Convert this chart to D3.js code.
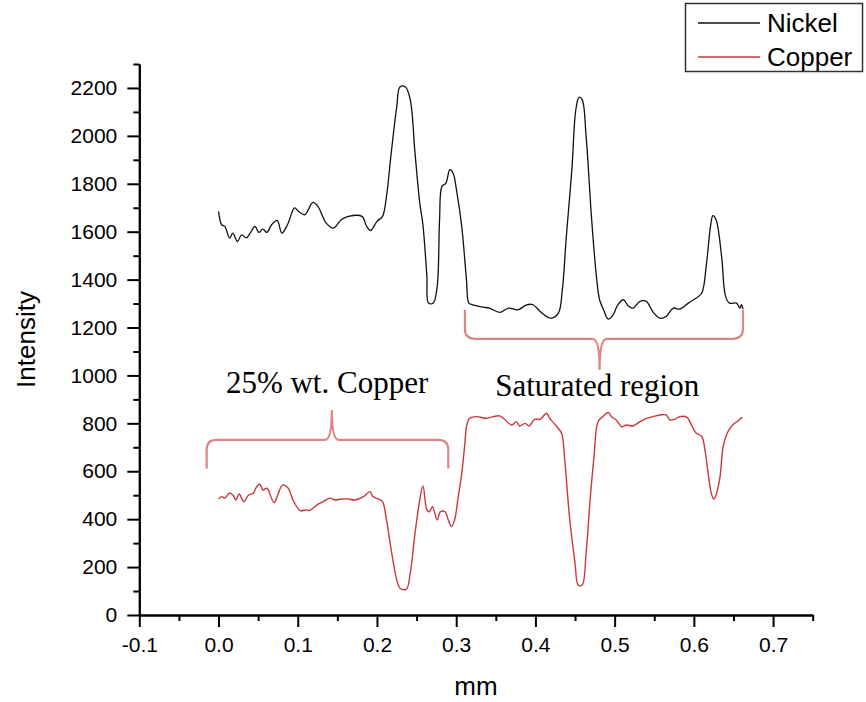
<!DOCTYPE html>
<html>
<head>
<meta charset="utf-8">
<script src="https://cdn.jsdelivr.net/npm/d3@7/dist/d3.min.js"></script>
<style>
  body { margin: 0; background: #fff; }
  .axis text { font-family: 'Liberation Sans', Arial, sans-serif; font-size: 21px; fill: #000; }
  .axis path, .axis line { stroke: #000; stroke-width: 2; }
  .title { font-family: 'Liberation Sans', Arial, sans-serif; font-size: 26px; fill: #000; }
  .note { font-family: 'Liberation Serif', 'Times New Roman', serif; font-size: 31px; fill: #000; }
  .legend text { font-family: 'Liberation Sans', Arial, sans-serif; font-size: 26px; fill: #000; }
</style>
</head>
<body>
<div class="js-container"></div>
<script>
// Position along the scan (mm) and intensity.
var nickelMm = [0.000, 0.004, 0.008, 0.014, 0.018, 0.024, 0.029, 0.035, 0.040, 0.046,
  0.051, 0.056, 0.061, 0.067, 0.074, 0.080, 0.087, 0.096, 0.101, 0.109,
  0.119, 0.125, 0.136, 0.145, 0.155, 0.164, 0.181, 0.187, 0.192, 0.200,
  0.207, 0.212, 0.218, 0.225, 0.229, 0.236, 0.242, 0.248, 0.254, 0.258,
  0.263, 0.265, 0.271, 0.276, 0.279, 0.282, 0.287, 0.292, 0.296, 0.301,
  0.307, 0.313, 0.316, 0.321, 0.334, 0.342, 0.355, 0.366, 0.378, 0.389,
  0.397, 0.406, 0.414, 0.420, 0.429, 0.434, 0.439, 0.446, 0.451, 0.455,
  0.459, 0.464, 0.471, 0.477, 0.481, 0.486, 0.492, 0.498, 0.504, 0.511,
  0.517, 0.523, 0.532, 0.540, 0.548, 0.557, 0.565, 0.574, 0.582, 0.593,
  0.603, 0.610, 0.616, 0.621, 0.624, 0.628, 0.635, 0.640, 0.645, 0.654,
  0.658, 0.660, 0.662];
var nickelIntensity = [1685, 1629, 1622, 1573, 1594, 1559, 1587, 1574, 1594, 1622,
  1597, 1611, 1597, 1629, 1647, 1594, 1629, 1699, 1685, 1671,
  1722, 1708, 1636, 1615, 1650, 1664, 1664, 1622, 1605, 1643,
  1664, 1747, 1929, 2123, 2204, 2204, 2151, 1929, 1720, 1629,
  1413, 1302, 1302, 1371, 1650, 1789, 1803, 1859, 1845, 1761,
  1622, 1399, 1302, 1295, 1285, 1281, 1263, 1281, 1274, 1295,
  1295, 1267, 1246, 1239, 1260, 1358, 1580, 1859, 2109, 2161,
  2151, 1998, 1650, 1413, 1316, 1274, 1235, 1253, 1295, 1316,
  1291, 1281, 1309, 1309, 1267, 1239, 1246, 1281, 1277, 1302,
  1323, 1344, 1469, 1622, 1667, 1650, 1497, 1330, 1302, 1302,
  1281, 1295, 1277];

var copperMm = [0.000, 0.004, 0.008, 0.014, 0.019, 0.022, 0.026, 0.032, 0.038, 0.044,
  0.047, 0.052, 0.056, 0.061, 0.070, 0.074, 0.081, 0.088, 0.094, 0.103,
  0.111, 0.115, 0.124, 0.132, 0.141, 0.147, 0.155, 0.164, 0.172, 0.183,
  0.191, 0.195, 0.202, 0.207, 0.212, 0.218, 0.225, 0.229, 0.237, 0.242,
  0.248, 0.254, 0.258, 0.263, 0.266, 0.270, 0.276, 0.280, 0.286, 0.290,
  0.294, 0.298, 0.302, 0.307, 0.311, 0.313, 0.317, 0.326, 0.338, 0.347,
  0.355, 0.361, 0.370, 0.376, 0.380, 0.387, 0.392, 0.399, 0.406, 0.414,
  0.418, 0.427, 0.433, 0.437, 0.443, 0.450, 0.454, 0.459, 0.464, 0.469,
  0.474, 0.479, 0.485, 0.492, 0.496, 0.502, 0.509, 0.515, 0.523, 0.532,
  0.540, 0.548, 0.557, 0.565, 0.570, 0.576, 0.582, 0.591, 0.597, 0.603,
  0.610, 0.614, 0.618, 0.622, 0.625, 0.628, 0.633, 0.637, 0.643, 0.649,
  0.656, 0.661];
var copperIntensity = [484, 494, 488, 509, 497, 480, 505, 473, 501, 508,
  529, 547, 522, 529, 469, 494, 543, 529, 480, 436,
  439, 436, 459, 473, 488, 480, 484, 484, 480, 494,
  515, 494, 484, 473, 397, 271, 146, 112, 107, 174,
  341, 480, 539, 439, 431, 452, 397, 431, 431, 397,
  369, 397, 480, 592, 717, 786, 821, 828, 821, 828,
  831, 817, 793, 807, 789, 800, 789, 817, 817, 842,
  821, 786, 759, 647, 410, 216, 125, 125, 258, 480,
  661, 807, 828, 845, 828, 814, 786, 793, 789, 807,
  821, 828, 835, 835, 814, 817, 828, 826, 793, 759,
  745, 689, 592, 508, 484, 501, 577, 703, 765, 793,
  811, 826];

// Tick labels.
var xTickValues = [-0.1, 0.0, 0.1, 0.2, 0.3, 0.4, 0.5, 0.6, 0.7];
var yTickValues = [0, 200, 400, 600, 800, 1000, 1200, 1400, 1600, 1800, 2000, 2200];

// Region braces, in data units: ends, middle, tip / bar / point levels.
var braceLabels = ['25% wt. Copper', 'Saturated region'];
var braceStart = [-0.015, 0.311];
var braceEnd = [0.290, 0.662];
var braceMid = [0.143, 0.481];
var braceTip = [612, 1274];
var braceBar = [731, 1153];
var bracePoint = [856, 1023];
var braceTextX = [0.137, 0.478];
var braceTextY = [926, 913];

;(function() {
  'use strict';

  var width = 866;
  var height = 702;

  var x = d3.scaleLinear().domain([-0.1, 0.75]).range([139.3, 812.7]);
  var y = d3.scaleLinear().domain([0, 2300]).range([615, 64]);

  var svg = d3.select('.js-container').append('svg')
              .attr('width', width)
              .attr('height', height);

  // Minor ticks first, then the major ones with their labels.
  svg.append('g')
      .attr('class', 'axis')
      .attr('transform', 'translate(0,' + y(0) + ')')
      .call(d3.axisBottom(x)
              .tickValues(d3.range(-0.05, 0.76, 0.1))
              .tickSize(6)
              .tickSizeOuter(0)
              .tickFormat(''));

  svg.append('g')
      .attr('class', 'axis')
      .attr('transform', 'translate(0,' + y(0) + ')')
      .call(d3.axisBottom(x)
              .tickValues(xTickValues)
              .tickSize(12)
              .tickSizeOuter(0)
              .tickPadding(10)
              .tickFormat(function(d) { return d.toFixed(1); }));

  svg.append('g')
      .attr('class', 'axis')
      .attr('transform', 'translate(' + x(-0.1) + ',0)')
      .call(d3.axisLeft(y)
              .tickValues(d3.range(100, 2301, 200))
              .tickSize(6)
              .tickSizeOuter(0)
              .tickFormat(''));

  svg.append('g')
      .attr('class', 'axis')
      .attr('transform', 'translate(' + x(-0.1) + ',0)')
      .call(d3.axisLeft(y)
              .tickValues(yTickValues)
              .tickSize(12)
              .tickSizeOuter(0)
              .tickPadding(10)
              .tickFormat(d3.format('d')));

  svg.append('text')
      .attr('class', 'title')
      .attr('x', (x.range()[0] + x.range()[1]) / 2)
      .attr('y', 695)
      .attr('text-anchor', 'middle')
      .text('mm');

  svg.append('text')
      .attr('class', 'title')
      .attr('transform', 'translate(35,' + (y.range()[0] + y.range()[1]) / 2 + ') rotate(-90)')
      .attr('text-anchor', 'middle')
      .text('Intensity');

  /**
   * Draws one spectrum line from two parallel arrays.
   */
  function drawLine(xs, ys, color, w) {
    var pts = xs.map(function(d, i) { return [d, ys[i]]; });
    svg.append('path')
        .datum(pts)
        .attr('fill', 'none')
        .attr('stroke', color)
        .attr('stroke-width', w)
        .attr('stroke-linejoin', 'round')
        .attr('d', d3.line()
                      .curve(d3.curveCatmullRom.alpha(0.5))
                      .x(function(d) { return x(d[0]); })
                      .y(function(d) { return y(d[1]); }));
  };

  drawLine(nickelMm, nickelIntensity, '#111', 1.3);
  drawLine(copperMm, copperIntensity, '#c9383d', 1.4);

  /**
   * Curly brace between two x positions, bar at one level, tips and point
   * on either side of it.
   */
  function bracePath(i) {
    var x0 = x(braceStart[i]), x1 = x(braceEnd[i]), xm = x(braceMid[i]);
    var yt = y(braceTip[i]), yb = y(braceBar[i]), yp = y(bracePoint[i]);
    var r = 10, r2 = 7;
    var s = yt > yb ? 1 : -1;
    return 'M' + x0 + ',' + yt +
           'L' + x0 + ',' + (yb + s * r) +
           'Q' + x0 + ',' + yb + ' ' + (x0 + r) + ',' + yb +
           'L' + (xm - r2) + ',' + yb +
           'Q' + xm + ',' + yb + ' ' + xm + ',' + yp +
           'Q' + xm + ',' + yb + ' ' + (xm + r2) + ',' + yb +
           'L' + (x1 - r) + ',' + yb +
           'Q' + x1 + ',' + yb + ' ' + x1 + ',' + (yb + s * r) +
           'L' + x1 + ',' + yt;
  };

  braceLabels.forEach(function(label, i) {
    svg.append('path')
        .attr('d', bracePath(i))
        .attr('fill', 'none')
        .attr('stroke', '#e08585')
        .attr('stroke-width', 2.2);

    svg.append('text')
        .attr('class', 'note')
        .attr('x', x(braceTextX[i]))
        .attr('y', y(braceTextY[i]))
        .attr('text-anchor', 'middle')
        .text(label);
  });

  // Legend box in the top right corner.
  var legend = svg.append('g').attr('class', 'legend');

  legend.append('rect')
      .attr('x', 685.5)
      .attr('y', 3.5)
      .attr('width', 177)
      .attr('height', 68)
      .attr('fill', '#fff')
      .attr('stroke', '#333')
      .attr('stroke-width', 1.5);

  var legendItems = [['Nickel', '#111'], ['Copper', '#c9383d']];

  legendItems.forEach(function(d, i) {
    var ly = 23 + i * 34;
    legend.append('line')
        .attr('x1', 698)
        .attr('x2', 760)
        .attr('y1', ly)
        .attr('y2', ly)
        .attr('stroke', d[1])
        .attr('stroke-width', 1.3);
    legend.append('text')
        .attr('x', 767)
        .attr('y', ly + 9)
        .text(d[0]);
  });

}());
</script>
</body>
</html>
